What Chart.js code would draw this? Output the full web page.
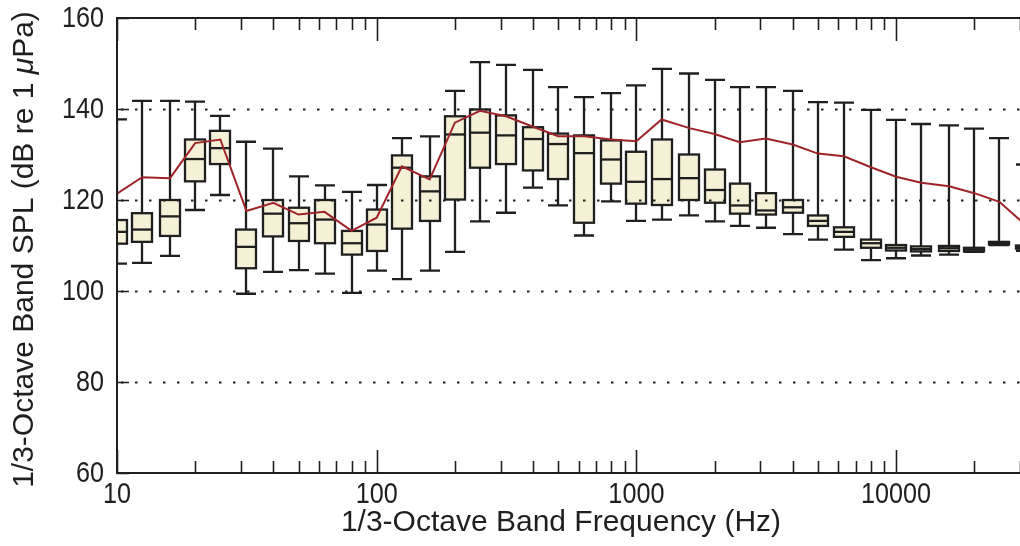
<!DOCTYPE html>
<html>
<head>
<meta charset="utf-8">
<script src="https://cdn.jsdelivr.net/npm/chart.js@4.4.1/dist/chart.umd.min.js"></script>
<style>
  html, body { margin: 0; padding: 0; background: #fff; overflow: hidden; }
  #wrap { width: 1020px; height: 546px; position: relative; }
</style>
</head>
<body>
<div id="wrap"><canvas id="spl" width="1020" height="546"></canvas></div>
<script>
// 1/3-octave band centre frequencies (Hz)
const bandFreqs = [10, 12.5, 16, 20, 25, 31.5, 40, 50, 63, 80, 100, 125, 160, 200, 250, 315,
  400, 500, 630, 800, 1000, 1250, 1600, 2000, 2500, 3150, 4000, 5000, 6300, 8000,
  10000, 12500, 16000, 20000, 25000, 31500];

// Box-plot statistics per band (dB re 1 µPa)
const whiskerLow = [106.0, 106.2, 107.7, 117.8, 121.1, 99.4, 104.2, 104.6, 103.8, 99.6,
  104.5, 102.6, 104.5, 108.6, 115.3, 117.2, 122.7, 118.8, 112.2, 119.7,
  115.4, 115.7, 116.6, 115.3, 114.3, 113.9, 112.5, 111.3, 109.1, 106.8,
  107.2, 107.8, 108.0, 108.6, 110.1, 108.8];
const quartileLow = [110.4, 110.8, 112.1, 124.1, 127.9, 105.0, 112.0, 111.0, 110.5, 108.0,
  108.8, 113.7, 115.4, 120.1, 127.1, 127.9, 126.5, 124.6, 115.0, 123.6,
  119.2, 118.9, 120.0, 119.4, 117.0, 116.8, 117.2, 114.3, 111.9, 109.5,
  108.9, 108.7, 108.8, 108.7, 110.2, 109.3];
const medians = [113.0, 113.5, 116.4, 129.0, 131.4, 109.7, 117.0, 114.9, 115.7, 110.5,
  114.6, 127.1, 121.9, 134.4, 134.8, 134.2, 133.4, 132.3, 130.3, 128.9,
  124.0, 124.6, 124.8, 122.2, 118.8, 117.7, 118.4, 115.4, 113.0, 110.5,
  109.5, 109.2, 109.4, 109.1, 110.4, 109.6];
const quartileHigh = [115.6, 117.1, 120.0, 133.3, 135.2, 113.5, 120.0, 118.3, 120.0, 113.2,
  117.9, 129.8, 125.2, 138.4, 139.9, 138.6, 136.0, 134.6, 134.2, 133.1,
  130.6, 133.3, 130.0, 126.7, 123.6, 121.5, 120.0, 116.6, 114.0, 111.3,
  110.1, 109.8, 109.9, 109.5, 110.8, 110.0];
const whiskerHigh = [137.7, 141.8, 141.8, 141.6, 138.5, 132.8, 131.3, 125.2, 123.2, 121.8,
  123.3, 133.6, 134.0, 144.0, 150.3, 149.7, 148.6, 144.8, 142.6, 143.5,
  145.2, 148.8, 147.8, 146.4, 144.8, 144.8, 144.0, 141.5, 141.4, 139.8,
  137.6, 136.7, 136.4, 135.7, 133.6, 127.8];

// Upper reference curve
const referenceLevel = [121.4, 125.0, 124.8, 132.5, 133.3, 117.6, 119.4, 116.8, 117.4, 113.2,
  116.1, 127.4, 124.5, 137.0, 139.6, 138.4, 136.1, 134.0, 134.0, 133.3,
  132.9, 137.7, 135.8, 134.5, 132.7, 133.5, 132.2, 130.2, 129.6, 127.2,
  125.1, 123.8, 123.0, 121.5, 119.6, 114.5];

// Axis ticks
const yTickValues = [60, 80, 100, 120, 140, 160];
const yGridValues = [80, 100, 120, 140];
const xLabelValues = [10, 100, 1000, 10000];
const xMinorValues = [20, 30, 40, 50, 60, 70, 80, 90, 200, 300, 400, 500, 600, 700, 800, 900,
  2000, 3000, 4000, 5000, 6000, 7000, 8000, 9000, 20000, 30000];

const INK = '#1f1f1f';
const BOX_FILL = '#f4f1d6';
const FONT = '"Liberation Sans", Arial, Helvetica, sans-serif';
const TICK_FONT_SIZE = 30;
const TICK_SQUEEZE = 0.84;
const TITLE_FONT_SIZE = 30;

const boxPlotPlugin = {
  id: 'boxPlot',
  beforeDatasetsDraw(chart) {
    const { ctx, chartArea: a, scales: { x, y } } = chart;
    ctx.save();
    ctx.beginPath();
    ctx.rect(a.left, a.top, a.right - a.left, a.bottom - a.top);
    ctx.clip();
    const half = 10;
    ctx.lineWidth = 2.3;
    ctx.strokeStyle = INK;
    bandFreqs.forEach((f, i) => {
      const cx = Math.round(x.getPixelForValue(f));
      const pLo = y.getPixelForValue(whiskerLow[i]);
      const pQ1 = y.getPixelForValue(quartileLow[i]);
      const pMd = y.getPixelForValue(medians[i]);
      const pQ3 = y.getPixelForValue(quartileHigh[i]);
      const pHi = y.getPixelForValue(whiskerHigh[i]);
      // whiskers and caps
      ctx.beginPath();
      ctx.moveTo(cx, pHi); ctx.lineTo(cx, pQ3);
      ctx.moveTo(cx, pQ1); ctx.lineTo(cx, pLo);
      ctx.moveTo(cx - half, pHi); ctx.lineTo(cx + half, pHi);
      ctx.moveTo(cx - half, pLo); ctx.lineTo(cx + half, pLo);
      ctx.stroke();
      // interquartile box
      ctx.fillStyle = BOX_FILL;
      ctx.fillRect(cx - half, pQ3, 2 * half, pQ1 - pQ3);
      ctx.strokeRect(cx - half, pQ3, 2 * half, pQ1 - pQ3);
      // median
      ctx.beginPath();
      ctx.moveTo(cx - half, pMd); ctx.lineTo(cx + half, pMd);
      ctx.stroke();
    });
    // dotted grid drawn over the boxes
    ctx.setLineDash([2.5, 11.5]);
    ctx.lineWidth = 1.8;
    yGridValues.forEach(v => {
      const py = Math.round(y.getPixelForValue(v)) + 0.5;
      ctx.beginPath();
      ctx.moveTo(a.left + 4, py);
      ctx.lineTo(a.right, py);
      ctx.stroke();
    });
    ctx.restore();
  },
  afterDatasetsDraw(chart) {
    const { ctx, chartArea: a, scales: { x, y } } = chart;
    ctx.save();
    ctx.strokeStyle = INK;
    ctx.lineWidth = 2;
    // frame: left, top, bottom
    ctx.beginPath();
    ctx.moveTo(a.right + 2, a.top); ctx.lineTo(a.left, a.top);
    ctx.lineTo(a.left, a.bottom); ctx.lineTo(a.right + 2, a.bottom);
    ctx.stroke();
    // inward tick marks
    ctx.lineWidth = 1.6;
    ctx.beginPath();
    const tickAt = (v, len) => {
      const px = Math.round(x.getPixelForValue(v)) + 0.5;
      ctx.moveTo(px, a.bottom); ctx.lineTo(px, a.bottom - len);
      ctx.moveTo(px, a.top); ctx.lineTo(px, a.top + len);
    };
    xLabelValues.forEach(v => tickAt(v, 23));
    xMinorValues.forEach(v => tickAt(v, 12));
    yTickValues.forEach(v => {
      const py = Math.round(y.getPixelForValue(v)) + 0.5;
      ctx.moveTo(a.left, py); ctx.lineTo(a.left + 12, py);
    });
    ctx.stroke();
    ctx.restore();
  },
  afterDraw(chart) {
    const { ctx, chartArea: a, scales: { x, y } } = chart;
    ctx.save();
    ctx.fillStyle = INK;
    // tick labels (narrow lettering)
    ctx.font = `${TICK_FONT_SIZE}px ${FONT}`;
    ctx.textBaseline = 'middle';
    yTickValues.forEach(v => {
      ctx.save();
      ctx.translate(a.left - 13, y.getPixelForValue(v) + 1);
      ctx.scale(TICK_SQUEEZE, 1);
      ctx.textAlign = 'right';
      ctx.fillText(String(v), 0, 0);
      ctx.restore();
    });
    xLabelValues.forEach(v => {
      ctx.save();
      ctx.translate(x.getPixelForValue(v), a.bottom + 22);
      ctx.scale(TICK_SQUEEZE, 1);
      ctx.textAlign = 'center';
      ctx.fillText(String(v), 0, 0);
      ctx.restore();
    });
    // x-axis title
    ctx.font = `${TITLE_FONT_SIZE}px ${FONT}`;
    ctx.textAlign = 'center';
    ctx.fillText('1/3-Octave Band Frequency (Hz)', 561, 523);
    // y-axis title with italic mu
    const parts = [
      { t: '1/3-Octave Band SPL (dB re 1 ', f: `${TITLE_FONT_SIZE}px ${FONT}` },
      { t: 'μ', f: `italic ${TITLE_FONT_SIZE}px ${FONT}` },
      { t: 'Pa)', f: `${TITLE_FONT_SIZE}px ${FONT}` }
    ];
    let total = 0;
    parts.forEach(p => { ctx.font = p.f; p.w = ctx.measureText(p.t).width; total += p.w; });
    ctx.translate(25, (a.top + a.bottom) / 2 + 4);
    ctx.rotate(-Math.PI / 2);
    ctx.textAlign = 'left';
    let cx = -total / 2;
    parts.forEach(p => { ctx.font = p.f; ctx.fillText(p.t, cx, 0); cx += p.w; });
    ctx.restore();
  }
};

new Chart(document.getElementById('spl'), {
  type: 'line',
  data: {
    datasets: [{
      data: bandFreqs.map((f, i) => ({ x: f, y: referenceLevel[i] })),
      borderColor: '#9e2429',
      borderWidth: 2,
      pointRadius: 0,
      tension: 0
    }]
  },
  options: {
    responsive: false,
    animation: false,
    devicePixelRatio: 1,
    layout: { padding: { top: 18, right: 0, left: 0, bottom: 0 } },
    plugins: { legend: { display: false }, tooltip: { enabled: false } },
    scales: {
      x: {
        type: 'logarithmic',
        min: 10,
        max: 30000,
        grid: { display: false, drawTicks: false },
        border: { display: false },
        afterBuildTicks: s => { s.ticks = xLabelValues.map(v => ({ value: v })); },
        afterFit: s => { s.height = 73; s.paddingLeft = 0; s.paddingRight = 0; },
        ticks: { display: false }
      },
      y: {
        min: 60,
        max: 160,
        grid: { display: false, drawTicks: false },
        border: { display: false },
        afterBuildTicks: s => { s.ticks = yTickValues.map(v => ({ value: v })); },
        afterFit: s => { s.width = 117; s.paddingTop = 0; s.paddingBottom = 0; },
        ticks: { display: false }
      }
    }
  },
  plugins: [boxPlotPlugin]
});
</script>
</body>
</html>
